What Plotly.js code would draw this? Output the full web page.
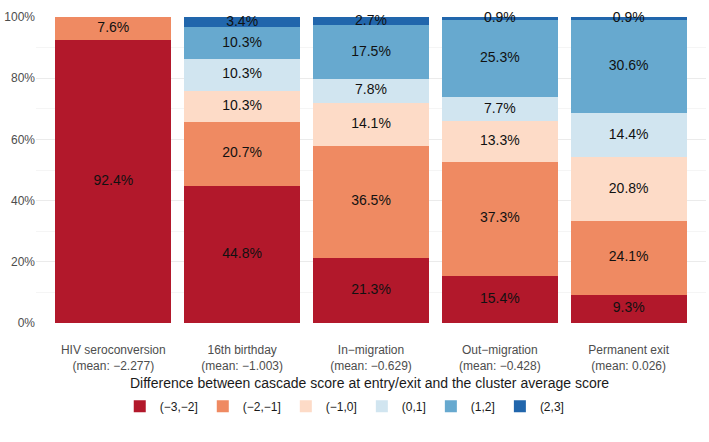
<!DOCTYPE html>
<html><head><meta charset="utf-8">
<script src="https://cdn.plot.ly/plotly-3.0.1.min.js"></script>
<style>html,body{margin:0;padding:0;background:#fff}#chart{width:709px;height:442px}</style>
</head><body><div id="chart"></div>
<script>
const categories = ["HIV seroconversion<br>(mean: \u22122.277)", "16th birthday<br>(mean: \u22121.003)", "In\u2212migration<br>(mean: \u22120.629)", "Out\u2212migration<br>(mean: \u22120.428)", "Permanent exit<br>(mean: 0.026)"];
const groups = ["(\u22123,\u22122]", "(\u22122,\u22121]", "(\u22121,0]", "(0,1]", "(1,2]", "(2,3]"];
const colors = ["#b2182b", "#ef8a62", "#fddbc7", "#d1e5f0", "#67a9cf", "#2166ac"];
const legendTitle = "Difference between cascade score at entry/exit and the cluster average score";
// percent values per group for each category; null = absent
const g_m3_m2 = [92.4, 44.8, 21.3, 15.4, 9.3];
const g_m2_m1 = [7.6, 20.7, 36.5, 37.3, 24.1];
const g_m1_0  = [null, 10.3, 14.1, 13.3, 20.8];
const g_0_1   = [null, 10.3, 7.8, 7.7, 14.4];
const g_1_2   = [null, 10.3, 17.5, 25.3, 30.6];
const g_2_3   = [null, 3.4, 2.7, 0.9, 0.9];
const series = [g_m3_m2, g_m2_m1, g_m1_0, g_0_1, g_1_2, g_2_3];

const totals = categories.map((c, j) => series.reduce((s, arr) => s + (arr[j] || 0), 0));
const traces = [];
const cum = categories.map(() => 0);
const tx = [], ty = [], tt = [];
series.forEach((arr, i) => {
  const yv = arr.map((v, j) => v == null ? 0 : v / totals[j]);
  traces.push({type: 'bar', name: groups[i], x: categories, y: yv,
    marker: {color: colors[i], line: {width: 0}}, hoverinfo: 'skip'});
  arr.forEach((v, j) => {
    if (v == null) return;
    const f = v / totals[j];
    tx.push(categories[j]); ty.push(cum[j] + f / 2); tt.push(v.toFixed(1) + '%');
    cum[j] += f;
  });
});
traces.push({type: 'scatter', mode: 'text', x: tx, y: ty, text: tt, showlegend: false,
  textfont: {family: 'Liberation Sans, Arial, sans-serif', size: 14, color: '#111'},
  cliponaxis: false, hoverinfo: 'skip'});

const layout = {
  width: 709, height: 442,
  margin: {l: 36, r: 3, t: 17, b: 119},
  barmode: 'stack', bargap: 0.1,
  paper_bgcolor: '#fff', plot_bgcolor: '#fff',
  font: {family: 'Liberation Sans, Arial, sans-serif', color: '#4d4d4d'},
  xaxis: {range: [-0.6, 4.6], showgrid: false, zeroline: false, showline: false, ticks: '',
    tickfont: {size: 12, color: '#4d4d4d'}, ticklabelstandoff: 18},
  yaxis: {range: [0, 1], tickvals: [0, 0.2, 0.4, 0.6, 0.8, 1], ticktext: ['0%', '20%', '40%', '60%', '80%', '100%'],
    showgrid: true, gridcolor: '#ebebeb', gridwidth: 1, zeroline: false, showline: false, ticks: '',
    tickfont: {size: 12, color: '#4d4d4d'},
    minor: {tickvals: [0.1, 0.3, 0.5, 0.7, 0.9], showgrid: true, gridcolor: '#f5f5f5', gridwidth: 1}},
  legend: {orientation: 'h', x: 0.125, xanchor: 'left', y: -0.225, yanchor: 'top',
    font: {size: 12, color: '#1a1a1a'}, traceorder: 'normal', itemwidth: 30},
  annotations: [{text: legendTitle, xref: 'paper', yref: 'paper', x: 0.137, y: -0.196,
    xanchor: 'left', yanchor: 'middle', showarrow: false, font: {size: 14, color: '#1a1a1a'}}]
};
Plotly.newPlot('chart', traces, layout, {displayModeBar: false, staticPlot: true});
</script></body></html>
